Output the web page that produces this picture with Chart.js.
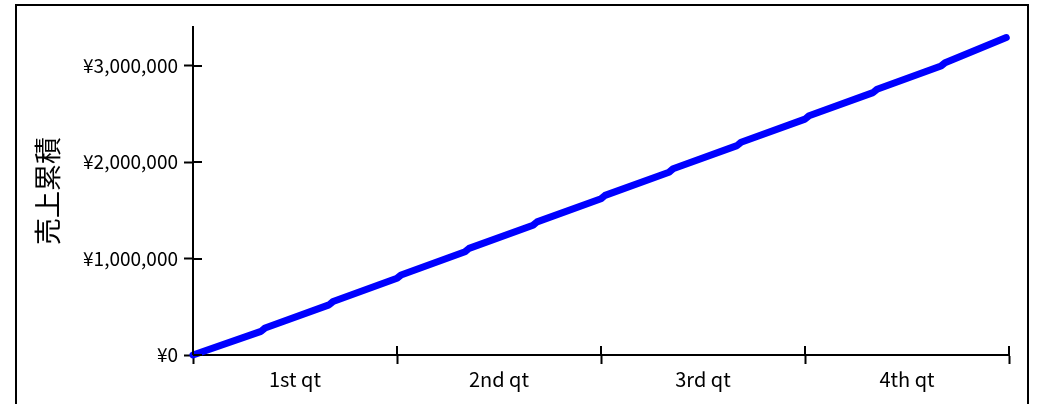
<!DOCTYPE html>
<html>
<head>
<meta charset="utf-8">
<script src="https://cdn.jsdelivr.net/npm/chart.js@4/dist/chart.umd.min.js"></script>
<style>
  html, body { margin: 0; padding: 0; background: #fff; overflow: hidden; }
  #wrap { position: relative; width: 1038px; height: 404px; }
  #frame { position: absolute; left: 15px; top: 4px; width: 1010px; height: 500px; border: 2px solid #000; }
  canvas { position: absolute; left: 0; top: 0; }
</style>
</head>
<body>
<div id="wrap">
  <div id="frame"></div>
  <canvas id="grafico" width="1038" height="404"></canvas>
</div>
<script>
/* ---- dados ---- */
const quarters = ['1st qt', '2nd qt', '3rd qt', '4th qt'];
const yTicks = [0, 1000000, 2000000, 3000000];
const quarterEdges = [0, 3, 6, 9, 12];          // in months
// cumulative sales at each month boundary
const boundaryMonth = [1, 2, 3, 4, 5, 6, 7, 8, 9, 10, 11];
const beforeJump = [245000, 520000, 795000, 1070000, 1345000, 1620000, 1895000, 2170000, 2445000, 2720000, 2995000];
const afterJump  = [280000, 555000, 830000, 1105000, 1380000, 1655000, 1930000, 2205000, 2480000, 2755000, 3030000];
const yearEnd = { x: 11.96, y: 3290000 };

const pontos = [{ x: 0, y: 0 }];
boundaryMonth.forEach((m, i) => {
    pontos.push({ x: m, y: beforeJump[i] });
    pontos.push({ x: m + 0.06, y: afterJump[i] });
});
pontos.push(yearEnd);

/* ---- ticks that cross the axis (inner half) ---- */
const crossTicks = {
    id: 'crossTicks',
    afterDraw(chart) {
        const ctx = chart.ctx;
        const y = chart.scales.y;
        const x = chart.scales.x;
        ctx.save();
        ctx.strokeStyle = '#000';
        ctx.lineWidth = 2;
        ctx.beginPath();
        yTicks.forEach(v => {
            const py = Math.round(y.getPixelForValue(v));
            ctx.moveTo(y.right, py);
            ctx.lineTo(y.right + 9, py);
        });
        quarterEdges.forEach(v => {
            const px = Math.round(x.getPixelForValue(v));
            ctx.moveTo(px, chart.chartArea.bottom);
            ctx.lineTo(px, chart.chartArea.bottom - 9);
        });
        ctx.stroke();
        ctx.restore();
    }
};

const fonte = "'Noto Sans CJK JP', 'Noto Sans', sans-serif";

new Chart(document.getElementById('grafico').getContext('2d'), {
    type: 'line',
    data: {
        datasets: [{
            label: '売上累積',
            data: pontos,
            xAxisID: 'x',
            yAxisID: 'y',
            borderColor: '#0000ff',
            borderWidth: 7,
            borderCapStyle: 'round',
            borderJoinStyle: 'round',
            pointRadius: 0,
            tension: 0,
            clip: false
        }]
    },
    options: {
        responsive: false,
        animation: false,
        layout: { padding: { left: 0, right: 29, top: 27, bottom: 0 } },
        plugins: { legend: { display: false }, tooltip: { enabled: false } },
        scales: {
            x: {
                type: 'linear',
                display: false,
                min: 0,
                max: 12
            },
            q: {
                type: 'category',
                position: 'bottom',
                labels: quarters,
                offset: true,
                afterFit: s => { s.height = 49; },
                grid: {
                    offset: true,
                    drawOnChartArea: false,
                    tickLength: 9,
                    tickWidth: 2,
                    tickColor: '#000'
                },
                border: { color: '#000', width: 2 },
                ticks: { color: '#000', padding: 3, maxRotation: 0, font: { family: fonte, size: 20 } }
            },
            y: {
                type: 'linear',
                min: 0,
                max: 3400000,
                afterFit: s => { s.width = 193; },
                afterBuildTicks: s => { s.ticks = yTicks.map(v => ({ value: v })); },
                grid: {
                    drawOnChartArea: false,
                    tickLength: 9,
                    tickWidth: 2,
                    tickColor: '#000'
                },
                border: { color: '#000', width: 2 },
                ticks: {
                    color: '#000',
                    padding: 6,
                    font: { family: fonte, size: 19 },
                    callback: v => '¥' + v.toLocaleString('en-US')
                },
                title: {
                    display: true,
                    text: '売上累積',
                    color: '#000',
                    font: { family: fonte, size: 27 },
                    padding: { top: 32, bottom: 0 }
                }
            }
        }
    },
    plugins: [crossTicks]
});
</script>
</body>
</html>
